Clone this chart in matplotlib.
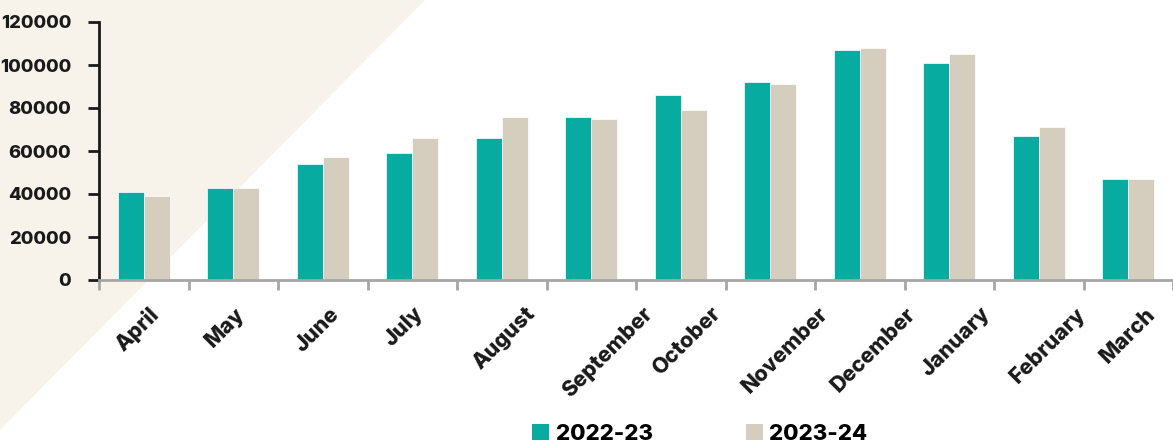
import matplotlib.pyplot as plt
import matplotlib.transforms as mtransforms
from matplotlib.patches import Polygon, Patch
import numpy as np

# Données
mois = ['April', 'May', 'June', 'July', 'August', 'September', 'October',
        'November', 'December', 'January', 'February', 'March']
val_2022_23 = [41000, 43000, 54000, 59000, 66000, 76000, 86000,
               92000, 107000, 101000, 67000, 47000]
val_2023_24 = [39000, 43000, 57000, 66000, 76000, 75000, 79000,
               91000, 108000, 105000, 71000, 47000]
series = ['2022-23', '2023-24']
yticks = [0, 20000, 40000, 60000, 80000, 100000, 120000]

couleur_a = '#08aba0'
couleur_b = '#d5cdbd'
fond = '#f7f2ea'
encre = '#1a1a1a'

plt.rcParams['font.family'] = ['Inter', 'DejaVu Sans']
plt.rcParams['font.weight'] = 'bold'

fig = plt.figure(figsize=(11.73, 4.45), dpi=100)

# Triangle beige en haut à gauche (derrière les axes)
tri = Polygon([(0, 1), (425 / 1173, 1), (0, 1 - 430 / 445)], closed=True,
              transform=fig.transFigure, facecolor=fond, edgecolor='none', zorder=-10)
fig.patches.append(tri)

ax = fig.add_axes([99 / 1173, 1 - 280 / 445, 1 - 99 / 1173, (280 - 22) / 445])
ax.patch.set_alpha(0)
ax.set_zorder(1)

x = np.arange(len(mois))
w = 0.29
ax.bar(x - w / 2, val_2022_23, width=w, color=couleur_a, edgecolor='white', linewidth=0.5)
ax.bar(x + w / 2, val_2023_24, width=w, color=couleur_b, edgecolor='white', linewidth=0.5)

ax.set_ylim(0, 120000)
ax.set_xlim(-0.5, 11.44)
ax.set_yticks(yticks)
ax.set_yticklabels([str(v) for v in yticks], fontsize=13.2, fontweight='heavy', color=encre)

# Ticks aux limites de catégories, étiquettes au centre
ax.set_xticks(np.arange(len(mois) + 1) - 0.5)
ax.set_xticklabels([])
ax.set_xticks(x, minor=True)
ax.set_xticklabels(mois, minor=True, rotation=45, ha='left', va='top',
                   fontsize=15.5, fontweight='heavy', color=encre)
ax.tick_params(axis='x', which='major', length=7, width=2, color='#a6a6a6', direction='out')
ax.tick_params(axis='x', which='minor', length=0, pad=17)
ax.tick_params(axis='y', length=8, width=2, color=encre, pad=12)

decal = mtransforms.ScaledTranslation(-32 / 100, 0, fig.dpi_scale_trans)
for lab in ax.get_xticklabels(minor=True):
    lab.set_rotation_mode('default')
    lab.set_transform(lab.get_transform() + decal)

for s in ['top', 'right']:
    ax.spines[s].set_visible(False)
ax.spines['left'].set_color(encre)
ax.spines['left'].set_linewidth(2)
ax.spines['bottom'].set_color('#a6a6a6')
ax.spines['bottom'].set_linewidth(2)

poignees = [Patch(facecolor=couleur_a), Patch(facecolor=couleur_b)]
fig.legend(poignees, series, loc='center', bbox_to_anchor=(700 / 1173, 11 / 445),
           ncol=2, frameon=False, handlelength=0.75, handleheight=0.75,
           handletextpad=0.3, columnspacing=4.2,
           prop={'size': 16, 'weight': 'heavy'})

fig.savefig('out.png', dpi=100)
